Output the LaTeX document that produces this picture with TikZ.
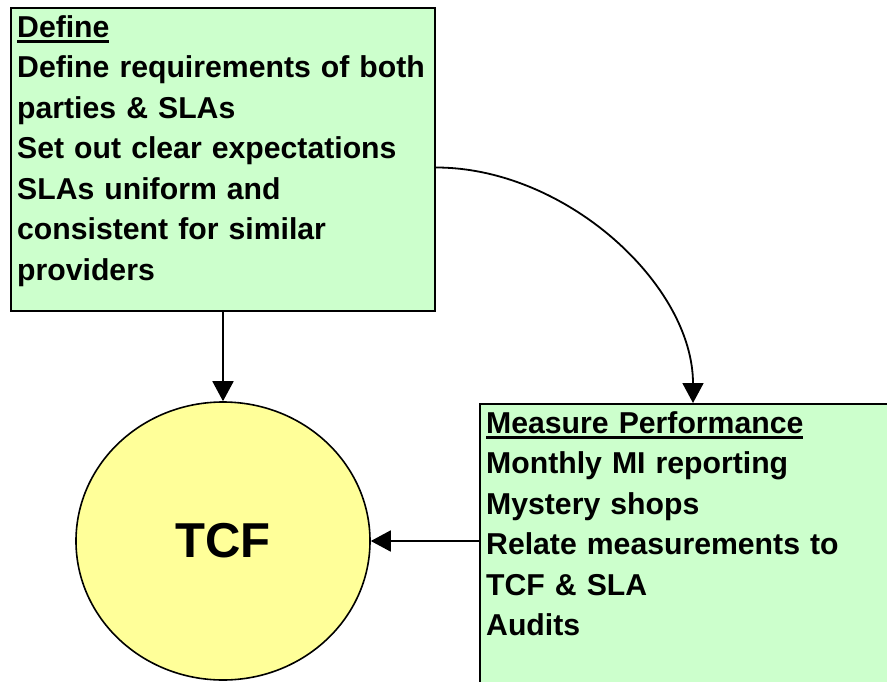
\documentclass[tikz,border=0pt]{standalone}
\usepackage{fontspec}
\setmainfont{Liberation Sans}
\newcommand{\myul}[1]{\setbox0\hbox{#1}\rlap{\rule[-5.5pt]{\wd0}{3pt}}\box0}
\usetikzlibrary{arrows.meta,shapes.geometric}
\definecolor{boxgreen}{HTML}{CCFFCC}
\definecolor{tcfyellow}{HTML}{FFFF99}
\tikzset{
  greenbox/.style={draw=black, line width=2pt, fill=boxgreen, rectangle, inner sep=0pt, anchor=north west},
  boxtext/.style={font=\bfseries\fontsize{30.2}{40.5}\selectfont, align=left, text width=420pt, inner sep=0pt, anchor=base west},
  tcfnode/.style={draw=black, line width=1.6pt, fill=tcfyellow, ellipse, inner sep=0pt, minimum width=294pt, minimum height=278pt, font=\bfseries\fontsize{49}{55}\selectfont},
  conn/.style={draw=black, line width=1.8pt, -{Triangle[length=20pt,width=21pt]}}
}
\begin{document}
\begin{tikzpicture}[x=1pt,y=-1pt]
\useasboundingbox (0,0) rectangle (887,681);
\clip (0,0) rectangle (887,681);
\fill[white] (0,0) rectangle (887,681);
\node[greenbox, minimum width=424pt, minimum height=303pt] (def) at (10,7) {};
\node[greenbox, minimum width=426pt, minimum height=300pt] (meas) at (479,403) {};
\node[tcfnode] (tcf) at (223,541) {TCF};
\node[boxtext] (deftext) at (17,37) {\myul{Define}\\Define requirements of both\\parties \& SLAs\\Set out clear expectations\\SLAs uniform and\\consistent for similar\\providers};
\node[boxtext] (meastext) at (486,433) {\myul{Measure Performance}\\Monthly MI reporting\\Mystery shops\\Relate measurements to\\TCF \& SLA\\Audits};
\draw[conn] (def.south) -- (tcf.north);
\draw[conn] ([yshift=-8pt]def.east) .. controls +(130,0) and +(0,-118) .. (meas.north);
\draw[conn] (tcf.east -| meas.west) -- (tcf.east);
\end{tikzpicture}
\end{document}
